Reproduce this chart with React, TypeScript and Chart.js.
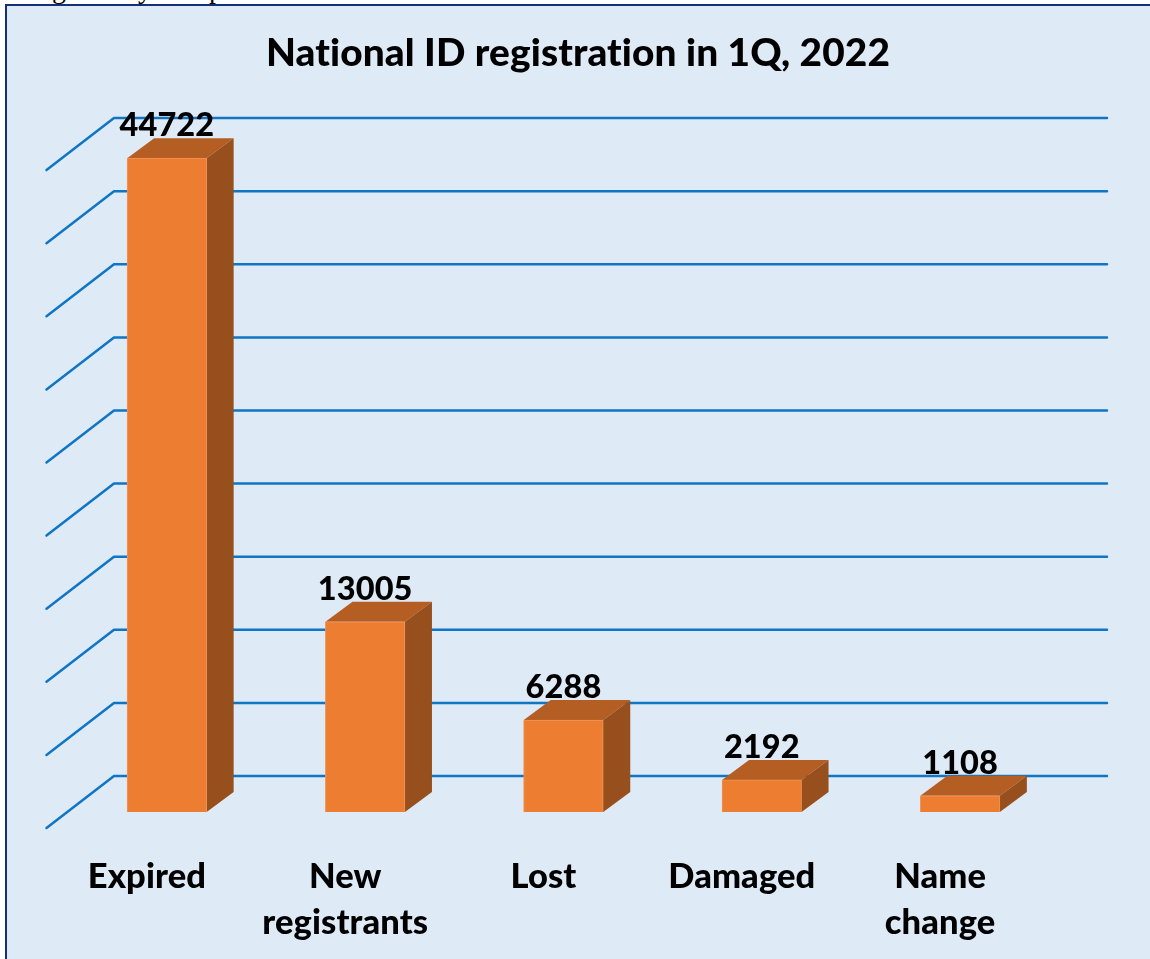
import React, { useEffect, useRef } from "react";
import { Chart, registerables } from "chart.js";

Chart.register(...registerables);

const titleText = "National ID registration in 1Q, 2022";
const categories = [["Expired"], ["New", "registrants"], ["Lost"], ["Damaged"], ["Name", "change"]];
const values = [44722, 13005, 6288, 2192, 1108];
const axisMax = 50000;
const axisStep = 5000;
const topGridValue = 45000;

const FONT = "Lato, Carlito, sans-serif";
const DEPTH_X = 27;
const DEPTH_Y = 20;
const WALL_OFFSET = 36;

const threeD = {
  id: "threeD",
  beforeDraw(chart: any) {
    chart.ctx.letterSpacing = "0.1px";
  },
  beforeDatasetsDraw(chart: any) {
    const { ctx, scales } = chart;
    const y = scales.y;
    ctx.save();
    ctx.strokeStyle = "#0F75C4";
    ctx.lineWidth = 2.5;
    ctx.lineCap = "round";
    ctx.lineJoin = "round";
    for (const t of y.ticks) {
      if (t.value > topGridValue) continue;
      const py = y.getPixelForValue(t.value) - WALL_OFFSET;
      ctx.beginPath();
      ctx.moveTo(46.5, py + 52);
      ctx.lineTo(114, py);
      ctx.lineTo(1107, py);
      ctx.stroke();
    }
    ctx.restore();
    const meta = chart.getDatasetMeta(0);
    ctx.save();
    for (const el of meta.data) {
      const l = el.x - el.width / 2;
      const r = el.x + el.width / 2;
      ctx.fillStyle = "#B55E23";
      ctx.beginPath();
      ctx.moveTo(l, el.y);
      ctx.lineTo(l + DEPTH_X, el.y - DEPTH_Y);
      ctx.lineTo(r + DEPTH_X, el.y - DEPTH_Y);
      ctx.lineTo(r, el.y);
      ctx.closePath();
      ctx.fill();
      ctx.fillStyle = "#974F1D";
      ctx.beginPath();
      ctx.moveTo(r - 1, el.y);
      ctx.lineTo(r, el.y);
      ctx.lineTo(r + DEPTH_X, el.y - DEPTH_Y);
      ctx.lineTo(r + DEPTH_X, el.base - DEPTH_Y);
      ctx.lineTo(r, el.base);
      ctx.lineTo(r - 1, el.base);
      ctx.closePath();
      ctx.fill();
      ctx.fillStyle = "#ED7D31";
      ctx.fillRect(l, el.y, 2, el.base - el.y);
    }
    ctx.restore();
  },
  afterDatasetsDraw(chart: any) {
    const { ctx } = chart;
    const meta = chart.getDatasetMeta(0);
    ctx.save();
    ctx.fillStyle = "#000";
    ctx.font = `900 32.5px ${FONT}`;
    ctx.textAlign = "center";
    ctx.textBaseline = "middle";
    meta.data.forEach((el: any, i: number) => {
      ctx.fillText(String(values[i]), el.x, el.y - 32.5);
    });
    ctx.restore();
  },
};

export default function App() {
  const ref = useRef<HTMLCanvasElement | null>(null);
  useEffect(() => {
    document.body.style.margin = "0";
    const chart = new Chart(ref.current as HTMLCanvasElement, {
      type: "bar",
      data: {
        labels: categories as any,
        datasets: [
          {
            data: values,
            backgroundColor: "#ED7D31",
            borderColor: "#F0935A",
            borderWidth: 1,
            barThickness: 79.5,
          },
        ],
      },
      plugins: [threeD],
      options: {
        animation: false,
        responsive: false,
        layout: { padding: { top: 10, left: 6, right: 0, bottom: 0 } },
        plugins: {
          legend: { display: false },
          tooltip: { enabled: false },
          title: {
            display: true,
            text: titleText,
            color: "#000",
            font: { family: FONT, size: 38.8, weight: "900", lineHeight: 1.2 },
            padding: { top: 20.5, bottom: 3.94 },
          },
        },
        scales: {
          x: {
            grid: { display: false },
            border: { display: false },
            afterFit: (s: any) => {
              s.height = 147;
            },
            ticks: {
              color: "#000",
              font: { family: FONT, size: 34.5, weight: "900", lineHeight: 1.333 },
              padding: 34,
              labelOffset: -20,
              maxRotation: 0,
              autoSkip: false,
            },
          },
          y: {
            min: 0,
            max: axisMax,
            grid: { display: false },
            border: { display: false },
            ticks: { display: false, stepSize: axisStep },
            afterFit: (s: any) => {
              s.width = 61.75;
            },
          },
          yRight: {
            axis: "y",
            position: "right",
            min: 0,
            max: axisMax,
            grid: { display: false },
            border: { display: false },
            ticks: { display: false },
            afterFit: (s: any) => {
              s.width = 90.75;
            },
          },
        },
      } as any,
    });
    return () => chart.destroy();
  }, []);

  const clipped = { position: "absolute", top: -25, fontFamily: "'Liberation Serif', serif", fontSize: 28, lineHeight: "28px", color: "#000" } as const;
  return (
    <div style={{ position: "relative", width: 1150, height: 959, overflow: "hidden", background: "#fff" }}>
      <div style={{ position: "absolute", left: 0, top: 0, width: 1150, height: 5, overflow: "hidden" }}>
        <span style={{ ...clipped, left: 52 }}>g</span>
        <span style={{ ...clipped, left: 138 }}>y</span>
        <span style={{ ...clipped, left: 209 }}>p</span>
      </div>
      <div
        style={{
          position: "absolute",
          left: 5,
          top: 4,
          width: 1160,
          height: 970,
          boxSizing: "border-box",
          border: "2px solid #12317A",
          background: "#DEEAF6",
        }}
      />
      <canvas ref={ref} width={1150} height={959} style={{ position: "absolute", left: 0, top: 0, display: "block" }} />
    </div>
  );
}
